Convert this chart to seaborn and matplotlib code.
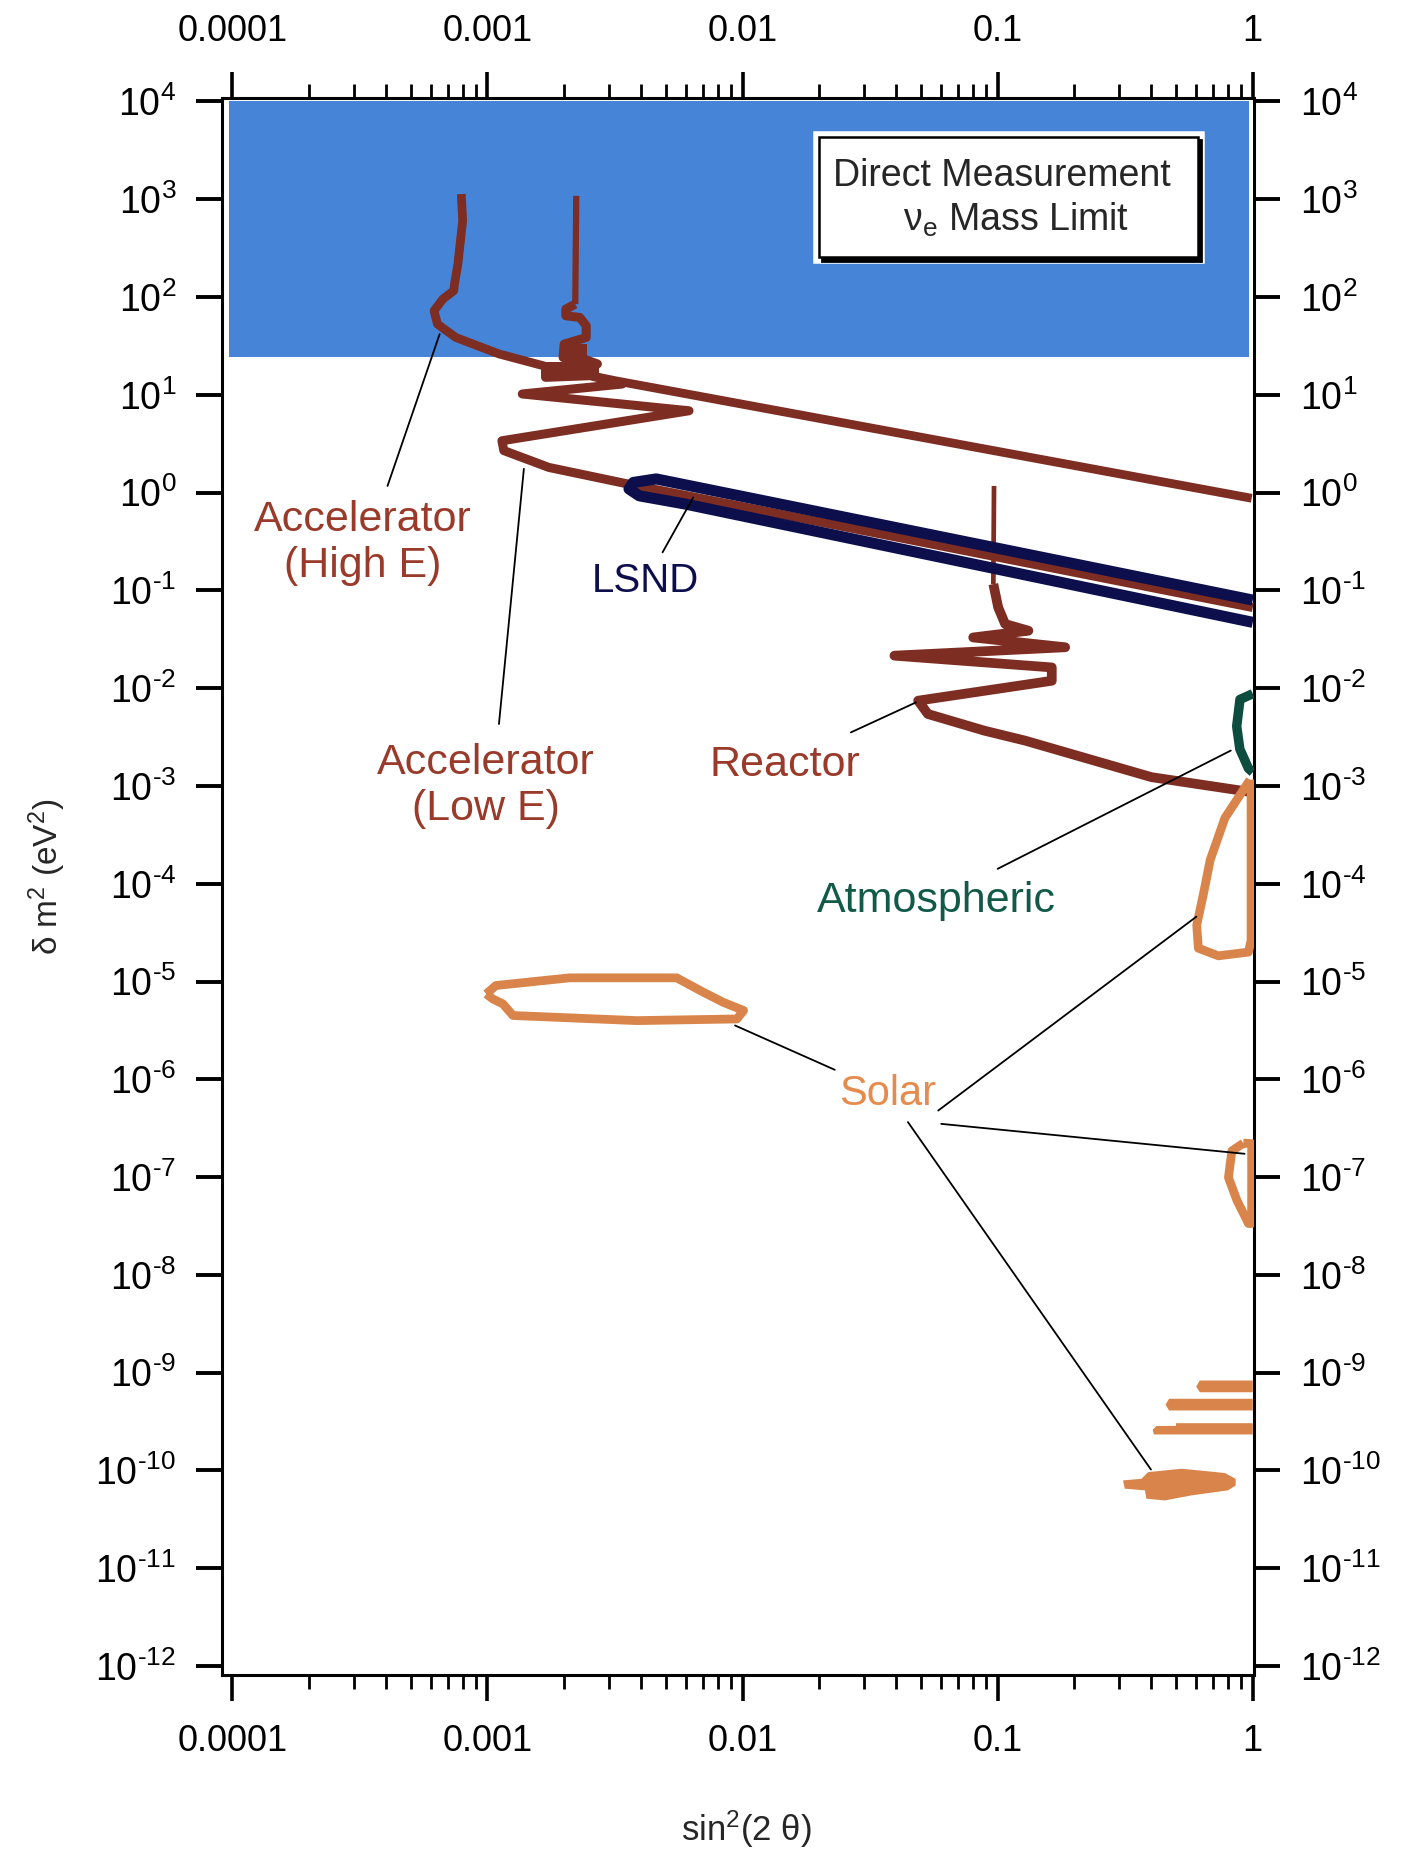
import matplotlib
matplotlib.use("Agg")
import matplotlib.pyplot as plt
import matplotlib.transforms as mtransforms
from matplotlib.ticker import FixedLocator, FixedFormatter, LogLocator, NullLocator, NullFormatter
import seaborn as sns

# ---------------------------------------------------------------- axes ticks
x_ticks = [1e-4, 1e-3, 1e-2, 1e-1, 1.0]
x_tick_labels = ["0.0001", "0.001", "0.01", "0.1", "1"]
y_exponents = list(range(4, -13, -1))

# ------------------------------------------ direct measurement (nu_e mass) band
band_x = [10 ** -4.014, 10 ** -0.015]
band_y = [24.5, 1.0e4]
box_x = [0.0199, 0.608]
box_y = [255.0, 4345.0]

# ------------------------------------------------------------- accelerator
acc_high_x = [7.9e-4, 8.0e-4, 7.66e-4, 7.43e-4, 7.38e-4, 6.68e-4, 6.18e-4,
              6.37e-4, 7.52e-4, 1.11e-3, 1.75e-3, 3.19e-3, 0.99]
acc_high_y = [1130, 603, 217, 136, 116, 95, 72.4, 52.9, 38.6, 26.2, 19.1,
              13.9, 0.875]

acc_low_top_x = [2.23e-3, 2.21e-3]
acc_low_top_y = [1084, 84.7]
acc_low_x = [2.21e-3, 2.03e-3, 2.03e-3, 2.30e-3, 2.44e-3, 2.44e-3, 2.0e-3,
             1.98e-3, 2.39e-3, 2.70e-3, 1.69e-3, 1.69e-3, 2.54e-3, 3.38e-3,
             1.37e-3, 6.17e-3, 1.14e-3, 1.16e-3, 1.74e-3, 3.58e-3, 1.0]
acc_low_y = [84.7, 75.3, 64.3, 61.9, 50.9, 38.6, 33.0, 24.1, 23.2, 20.7, 18.4,
             15.1, 15.7, 12.9, 10.2, 6.87, 3.39, 2.69, 1.81, 1.22, 0.0668]
# stepped block where the low-energy limit meets the high-energy curve
acc_block_x = [1.72e-3, 2.75e-3, 2.75e-3, 1.72e-3, 2.0e-3, 2.45e-3, 2.45e-3,
               2.0e-3]
acc_block_y = [15.0, 15.0, 21.5, 21.5, 24.5, 24.5, 33.0, 33.0]

# --------------------------------------------------------------------- LSND
lsnd_x = [1.0, 4.59e-3, 3.73e-3, 3.59e-3, 3.94e-3, 6.0e-3, 1.0]
lsnd_y = [0.0796, 1.38, 1.27, 1.09, 0.927, 0.762, 0.0471]

# ------------------------------------------------------------------ reactor
reactor_top_x = [0.0968, 0.0962]
reactor_top_y = [1.17, 0.116]
reactor_x = [0.0962, 0.1005, 0.107, 0.132, 0.0802, 0.184, 0.0394, 0.163,
             0.163, 0.0488, 0.0533, 0.0889, 0.128, 0.401, 1.0]
reactor_y = [0.116, 0.067, 0.0453, 0.0387, 0.0330, 0.0262, 0.0215, 0.0163,
             0.0119, 0.00745, 0.00544, 0.00367, 0.00291, 0.00123, 0.00086]

# ------------------------------------------------------------- atmospheric
atmo_x = [1.0, 0.891, 0.865, 0.89, 0.962, 1.0]
atmo_y = [0.00877, 0.00767, 0.00408, 0.00238, 0.00151, 0.00138]

# ------------------------------------------------------------------- solar
solar_lma_x = [0.975, 0.778, 0.681, 0.640, 0.603, 0.612, 0.733, 0.962, 0.985,
               0.985, 0.975]
solar_lma_y = [1.156e-3, 4.71e-4, 1.75e-4, 7.75e-5, 3.77e-5, 2.19e-5, 1.83e-5,
               2.0e-5, 2.64e-5, 9.0e-4, 1.156e-3]
solar_low_x = [0.918, 0.828, 0.803, 0.867, 0.962, 0.99, 0.99, 0.918]
solar_low_y = [2.22e-7, 1.85e-7, 9.9e-8, 5.77e-8, 3.35e-8, 3.35e-8, 2.2e-7,
               2.22e-7]
solar_sma_x = [9.9e-4, 1.08e-3, 2.10e-3, 5.52e-3, 7.03e-3, 8.41e-3, 1.01e-2,
               9.51e-3, 3.85e-3, 1.26e-3, 1.15e-3, 1.05e-3, 9.9e-4]
solar_sma_y = [7.46e-6, 9.1e-6, 1.09e-5, 1.09e-5, 7.76e-6, 6.12e-6, 5.05e-6,
               4.14e-6, 3.98e-6, 4.49e-6, 5.9e-6, 6.63e-6, 7.46e-6]

# vacuum-oscillation islands
vac1_x = [0.62, 1.0, 1.0, 0.62, 0.60]
vac1_y = [8.3e-10, 8.3e-10, 6.3e-10, 6.3e-10, 7.2e-10]
vac2_x = [0.47, 1.0, 1.0, 0.47, 0.455]
vac2_y = [5.4e-10, 5.4e-10, 4.1e-10, 4.1e-10, 4.7e-10]
vac3_x = [0.42, 0.50, 0.50, 1.0, 1.0, 0.41, 0.405]
vac3_y = [2.85e-10, 2.85e-10, 3.04e-10, 3.04e-10, 2.33e-10, 2.33e-10, 2.6e-10]
vac4_x = [0.310, 0.366, 0.389, 0.526, 0.778, 0.857, 0.857, 0.80, 0.575, 0.452,
          0.383, 0.378, 0.315]
vac4_y = [7.9e-11, 8.2e-11, 9.6e-11, 1.04e-10, 9.4e-11, 8.2e-11, 7.0e-11,
          6.25e-11, 5.55e-11, 4.93e-11, 5.13e-11, 6.25e-11, 6.5e-11]

# ------------------------------------------------------- labels & leaders
label_texts = ["Accelerator\n(High E)", "Accelerator\n(Low E)", "LSND",
               "Reactor", "Atmospheric", "Solar"]
label_x = [3.24e-4, 9.9e-4, 4.16e-3, 0.0147, 0.0573, 0.0369]
label_y = [0.304, 1.0e-3, 0.125, 1.62e-3, 6.6e-5, 7.0e-7]
label_sizes = [31, 31, 29, 31, 31, 30]

leader_x = [(6.5e-4, 4.06e-4), (1.39e-3, 1.11e-3), (6.41e-3, 4.86e-3),
            (0.0479, 0.0266), (0.820, 0.100), (9.35e-3, 0.0230),
            (0.601, 0.0585), (0.929, 0.0601), (0.399, 0.0445)]
leader_y = [(41.8, 1.17), (1.75, 4.3e-3), (0.893, 0.245),
            (7.16e-3, 3.53e-3), (2.30e-3, 1.42e-4), (3.55e-6, 1.25e-6),
            (4.6e-5, 4.79e-7), (1.73e-7, 3.5e-7), (1.02e-10, 3.65e-7)]

# ------------------------------------------------------------------ colours
BROWN = "#7e2d23"
BROWN_TXT = "#9a3a2a"
NAVY = "#0d0f4c"
GREEN = "#0c4d3f"
GREEN_TXT = "#125a48"
ORANGE = "#d9844a"
ORANGE_TXT = "#e58b4e"
BLUE = "#4684d8"

sns.set_theme(style="white")
plt.rcParams["font.family"] = ["Liberation Sans", "DejaVu Sans"]
plt.rcParams["mathtext.fontset"] = "custom"
plt.rcParams["mathtext.rm"] = "Liberation Sans"
plt.rcParams["mathtext.it"] = "Liberation Sans:italic"
plt.rcParams["mathtext.default"] = "regular"

fig = plt.figure(figsize=(14.01, 18.52), dpi=100)
ax = fig.add_axes([0.1585, 0.0956, 0.7366, 0.8515])
ax.set_xscale("log")
ax.set_yscale("log")
ax.set_xlim(10 ** -4.04, 10 ** 0.005)
ax.set_ylim(10 ** -12.092, 10 ** 4.036)

# mass-limit band and its caption box
ax.fill_between(band_x, band_y[0], band_y[1], color=BLUE, lw=0, zorder=1)
bx = [box_x[0], box_x[1], box_x[1], box_x[0]]
by = [box_y[0], box_y[0], box_y[1], box_y[1]]
ax.fill(bx, by, facecolor="white", edgecolor="white", lw=9, zorder=2)
shadow = mtransforms.offset_copy(ax.transData, fig=fig, x=3.5, y=-3.5, units="dots")
ax.fill(bx, by, facecolor="black", edgecolor="black", lw=2, zorder=2.1,
        transform=shadow)
ax.fill(bx, by, facecolor="white", edgecolor="black", lw=1.8, zorder=2.2)
ax.text(0.104, 1750, "Direct Measurement", fontsize=27, ha="center",
        va="center", zorder=3)
ax.text(0.118, 620, r"ν$_{\mathregular{e}}$ Mass Limit", fontsize=27,
        ha="center", va="center", zorder=3)


def path(xs, ys, color, lw, z=4):
    sns.lineplot(x=xs, y=ys, sort=False, estimator=None, ax=ax, color=color,
                 lw=lw, solid_joinstyle="round", solid_capstyle="butt",
                 zorder=z)


# exclusion curves and allowed regions
path(acc_high_x, acc_high_y, BROWN, 6.3)
path(acc_low_top_x, acc_low_top_y, BROWN, 4.5)
path(acc_low_x, acc_low_y, BROWN, 6.5)
ax.fill(acc_block_x[:4], acc_block_y[:4], color=BROWN, lw=0, zorder=4)
ax.fill(acc_block_x[4:], acc_block_y[4:], color=BROWN, lw=0, zorder=4)
path(reactor_top_x, reactor_top_y, BROWN, 3.4)
path(reactor_x, reactor_y, BROWN, 7.0)
path(lsnd_x, lsnd_y, NAVY, 8.0, z=5)
path(atmo_x, atmo_y, GREEN, 6.8)
path(solar_lma_x, solar_lma_y, ORANGE, 6.3)
path(solar_low_x, solar_low_y, ORANGE, 6.3)
path(solar_sma_x, solar_sma_y, ORANGE, 6.3)
for vx, vy in [(vac1_x, vac1_y), (vac2_x, vac2_y), (vac3_x, vac3_y),
               (vac4_x, vac4_y)]:
    ax.fill(vx, vy, color=ORANGE, lw=0, zorder=4)

# leader lines
for lx, ly in zip(leader_x, leader_y):
    ax.plot(lx, ly, color="black", lw=1.3, zorder=6)

label_colors = [BROWN_TXT, BROWN_TXT, NAVY, BROWN_TXT, GREEN_TXT, ORANGE_TXT]
for t, x, y, c, s in zip(label_texts, label_x, label_y, label_colors, label_sizes):
    ax.text(x, y, t, color=c, fontsize=s, ha="center", va="center",
            linespacing=1.2, zorder=7)


def decade_label(e):
    sign = r"\text{-}" if e < 0 else ""
    return r"$\mathregular{10^{%s%d}}$" % (sign, abs(e))


# ticks on all four sides
ax.xaxis.set_major_locator(FixedLocator(x_ticks))
ax.xaxis.set_major_formatter(FixedFormatter(x_tick_labels))
ax.xaxis.set_minor_locator(LogLocator(base=10, subs=[2, 3, 4, 5, 6, 7, 8, 9], numticks=20))
ax.xaxis.set_minor_formatter(NullFormatter())
ax.yaxis.set_major_locator(FixedLocator([10.0 ** e for e in y_exponents]))
ax.yaxis.set_major_formatter(FixedFormatter([decade_label(e) for e in y_exponents]))
ax.yaxis.set_minor_locator(NullLocator())

ax.tick_params(axis="x", which="major", direction="out", length=19, width=2.6,
               pad=16, labelsize=26, bottom=True, top=True, labelbottom=True,
               labeltop=True, color="black", labelcolor="black")
ax.tick_params(axis="x", which="minor", direction="out", length=10, width=2.0,
               bottom=True, top=True, color="black")
ax.tick_params(axis="y", which="major", direction="out", length=19, width=2.8,
               pad=14, labelsize=27, left=True, right=True, labelleft=True,
               labelright=True, color="black", labelcolor="black")
for sp in ax.spines.values():
    sp.set_visible(True)
    sp.set_color("black")
    sp.set_linewidth(2.2)
ax.grid(False)

ax.set_xlabel(r"sin$^{2}$(2 θ)", fontsize=25, va="center")
ax.xaxis.set_label_coords(0.508, -0.0977)
ax.set_ylabel(r"δ m$^{2}$ (eV$^{2}$)", fontsize=24, va="center")
ax.yaxis.set_label_coords(-0.1696, 0.506)

fig.savefig("out.png", dpi=100)
